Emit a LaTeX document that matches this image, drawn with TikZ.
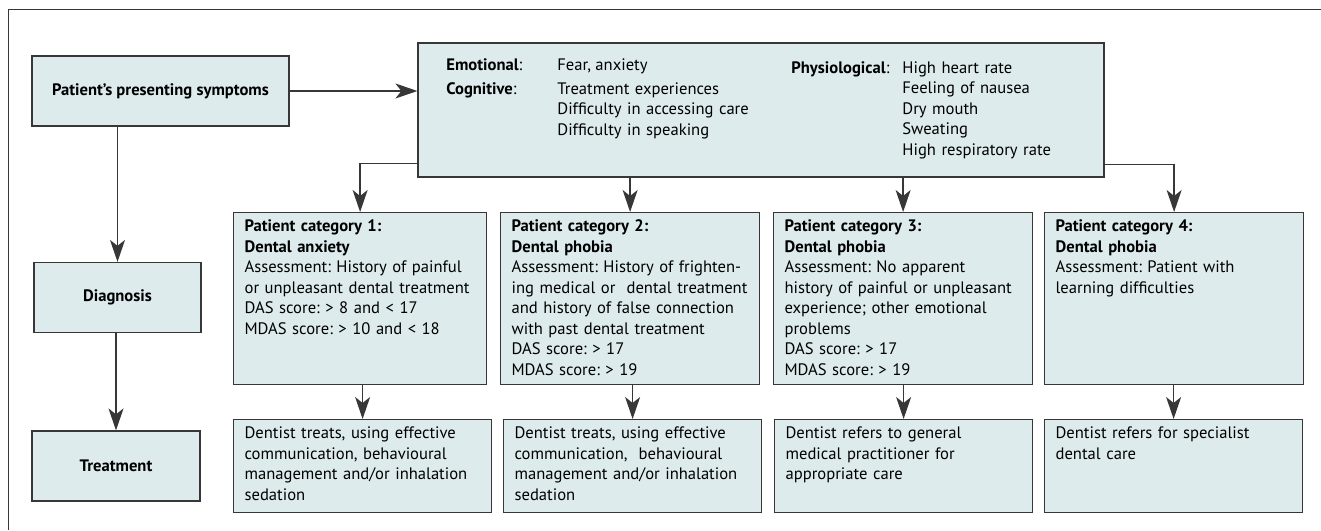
\documentclass[tikz,border=0pt]{standalone}
\usepackage{fontspec}
\setmainfont{PT Sans}
\usetikzlibrary{arrows.meta}

\definecolor{boxfill}{RGB}{221,235,236}
\definecolor{linegrey}{RGB}{55,55,55}
\newcommand{\chartfont}{\fontsize{8.3}{10.25}\selectfont\frenchspacing}

\tikzset{
  box/.style={draw=linegrey, fill=boxfill, line width=0.6pt, inner sep=0pt},
  stagebox/.style={box, font=\chartfont\bfseries, minimum height=35pt},
  catbox/.style={box, anchor=north west, align=left, inner xsep=5.5pt, inner ysep=0pt,
    text height=9.5pt, text depth=76.5pt, text width=#1},
  resbox/.style={box, anchor=north west, align=left, inner xsep=5.5pt, inner ysep=0pt,
    text height=9.5pt, text depth=37pt, text width=118pt},
  plain/.style={inner sep=0pt, anchor=base west},
  itemlist/.style={plain, align=left, text width=110pt},
  link/.style={draw=linegrey, line width=0.65pt, -{Stealth[length=11pt,width=7.5pt,inset=3pt]}},
}

\begin{document}
\begin{tikzpicture}[x=0.5pt, y=-0.5pt, font=\chartfont]
 \useasboundingbox (0,0) rectangle (1321,530);
 \draw[linegrey, line width=0.5pt] (8,530) -- (8,9) -- (1321,9);

 % left column
 \node[stagebox, minimum width=128.5pt] (sym) at (160.5,91) {Patient’s presenting symptoms};
 \node[stagebox, minimum width=83.5pt] (diag) at (117.5,297.5) {Diagnosis};
 \node[stagebox, minimum width=84pt] (treat) at (116,466) {Treatment};

 % symptoms
 \node[box, minimum width=343pt, minimum height=67pt] (symp) at (761,110) {};
 \node[plain] (emo) at (446,70) {\textbf{Emotional}:};
 \node[plain] (fear) at (557,70) {Fear, anxiety};
 \node[plain] (cog) at (446,94) {\textbf{Cognitive}:};
 \node[itemlist] (cogitems) at (557,94) {Treatment experiences\\Difficulty in accessing care\\Difficulty in speaking};
 \node[plain] (phys) at (791,73) {\textbf{Physiological}:};
 \node[itemlist] (physitems) at (902,73) {High heart rate\\Feeling of nausea\\Dry mouth\\Sweating\\High respiratory rate};

 % patient categories
 \node[catbox=115.5pt] (cat1) at (233,212) {\textbf{Patient category 1:}\\\textbf{Dental anxiety}\\Assessment: History of painful\\or unpleasant dental treatment\\DAS score: > 8 and < 17\\MDAS score: > 10 and < 18};
 \node[catbox=118.5pt] (cat2) at (500,212) {\textbf{Patient category 2:}\\\textbf{Dental phobia}\\Assessment: History of frighten-\\ing medical or \ dental treatment\\and history of false connection\\with past dental treatment\\DAS score: > 17\\MDAS score: > 19};
 \node[catbox=118.5pt] (cat3) at (773,212) {\textbf{Patient category 3:}\\\textbf{Dental phobia}\\Assessment: No apparent\\history of painful or unpleasant\\experience; other emotional\\problems\\DAS score: > 17\\MDAS score: > 19};
 \node[catbox=118.5pt] (cat4) at (1044,212) {\textbf{Patient category 4:}\\\textbf{Dental phobia}\\Assessment: Patient with\\learning difficulties};

 % outcomes
 \node[resbox] (res1) at (233,419) {Dentist treats, using effective\\communication, behavioural\\management and/or inhalation\\sedation};
 \node[resbox] (res2) at (503,419) {Dentist treats, using effective\\communication, \ behavioural\\management and/or inhalation\\sedation};
 \node[resbox] (res3) at (774,419) {Dentist refers to general\\medical practitioner for\\appropriate care};
 \node[resbox] (res4) at (1044,419) {Dentist refers for specialist\\dental care};

 % connectors
 \draw[link] (sym.east) -- (sym.east -| symp.west);
 \draw[link] (diag.north |- sym.south) -- (diag.north);
 \draw[link] (treat.north |- diag.south) -- (treat.north);
 \draw[link] ([yshift=7pt]symp.south west) -| (cat1.north);
 \draw[link] (cat2.north |- symp.south) -- (cat2.north);
 \draw[link] (cat3.north |- symp.south) -- (cat3.north);
 \draw[link] ([yshift=6.5pt]symp.south east) -| (cat4.north);
 \foreach \i in {1,...,4}
  \draw[link] (res\i.north |- cat\i.south) -- (res\i.north);
\end{tikzpicture}
\end{document}
